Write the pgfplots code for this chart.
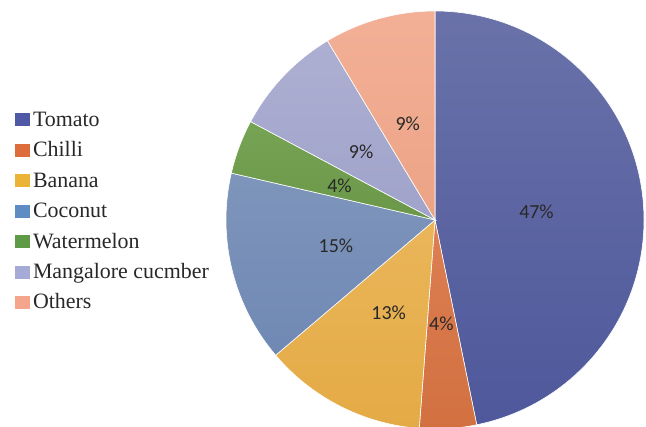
\documentclass[border=0pt]{standalone}
\usepackage{pgfplots}
\pgfplotsset{compat=1.18}
\usepackage{pgfplotstable}
\usepackage{fontspec}
\setmainfont{Liberation Serif}
\newfontfamily\legfont{Liberation Serif}
\newfontfamily\pctfont{Carlito}

% share of each crop, in %
\pgfplotstableread[col sep=comma]{
crop,share
Tomato,46.8
Chilli,4.4
Banana,12.6
Coconut,14.8
Watermelon,4.2
Mangalore cucmber,8.6
Others,8.6
}\piedata

% slice shading (top / bottom) and legend swatches
\definecolor{top0}{RGB}{106,114,169}\definecolor{bot0}{RGB}{78,88,155}
\definecolor{top1}{RGB}{220,127,83}\definecolor{bot1}{RGB}{210,112,64}
\definecolor{top2}{RGB}{234,182,90}\definecolor{bot2}{RGB}{228,170,69}
\definecolor{top3}{RGB}{126,149,187}\definecolor{bot3}{RGB}{112,137,180}
\definecolor{top4}{RGB}{118,164,84}\definecolor{bot4}{RGB}{106,152,72}
\definecolor{top5}{RGB}{173,175,210}\definecolor{bot5}{RGB}{160,163,202}
\definecolor{top6}{RGB}{243,176,150}\definecolor{bot6}{RGB}{236,163,134}
\definecolor{leg0}{RGB}{79,89,165}
\definecolor{leg1}{RGB}{221,110,60}
\definecolor{leg2}{RGB}{235,180,55}
\definecolor{leg3}{RGB}{95,140,195}
\definecolor{leg4}{RGB}{95,155,70}
\definecolor{leg5}{RGB}{165,170,215}
\definecolor{leg6}{RGB}{245,165,140}
\definecolor{labgray}{RGB}{40,40,40}

% the invisible box keeps the row heights; the square itself sits lower
\newcommand{\swatch}[1]{\addlegendimage{legend image code/.code={%
  \path[draw=none, fill=none] (0bp,-1bp) rectangle (15bp,12bp);
  \path[fill=#1, draw=none, overlay] (0bp,-5.5bp) rectangle (15bp,7.5bp);}}}

\begin{document}
\begin{tikzpicture}
\begin{axis}[
  at={(0,0)}, anchor=south west,
  scale only axis, width=646bp, height=427bp,
  xmin=0, xmax=646, ymin=0, ymax=427,
  hide axis,
  legend cell align=left,
  legend style={
    at={(axis cs:15,318)}, anchor=north west,
    draw=none, fill=none, inner sep=0pt, outer sep=0pt,
    font=\legfont\fontsize{22}{26}\selectfont, text=labgray,
    column sep=3bp, row sep=8.7bp,
    nodes={inner sep=0pt, text height=15bp, text depth=4.5bp},
  },
]
\swatch{leg0}\addlegendentry{Tomato}
\swatch{leg1}\addlegendentry{Chilli}
\swatch{leg2}\addlegendentry{Banana}
\swatch{leg3}\addlegendentry{Coconut}
\swatch{leg4}\addlegendentry{Watermelon}
\swatch{leg5}\addlegendentry{Mangalore cucmber}
\swatch{leg6}\addlegendentry{Others}

\pgfplotsextra{%
  \xdef\angA{90}%
  \foreach \i in {0,...,6}{%
    \pgfplotstablegetelem{\i}{share}\of\piedata
    \let\val\pgfplotsretval
    \pgfmathsetmacro{\angB}{\angA-3.6*\val}%
    \pgfmathsetmacro{\angM}{(\angA+\angB)/2}%
    \path[top color=top\i, bottom color=bot\i, draw=white, line width=0.6bp]
      (axis cs:435,207) -- ++(\angA:209bp)
      arc[start angle=\angA, end angle=\angB, radius=209bp] -- cycle;
    \node[font=\pctfont\fontsize{20}{24}\selectfont, text=labgray]
      at ([shift={(\angM:102bp)}]axis cs:435,205)
      {\pgfmathprintnumber[fixed,precision=0,assume math mode=true]{\val}\%};
    \xdef\angA{\angB}%
  }%
}
\end{axis}
\pgfresetboundingbox
\path (0,0) rectangle (646bp,427bp);
\end{tikzpicture}
\end{document}
